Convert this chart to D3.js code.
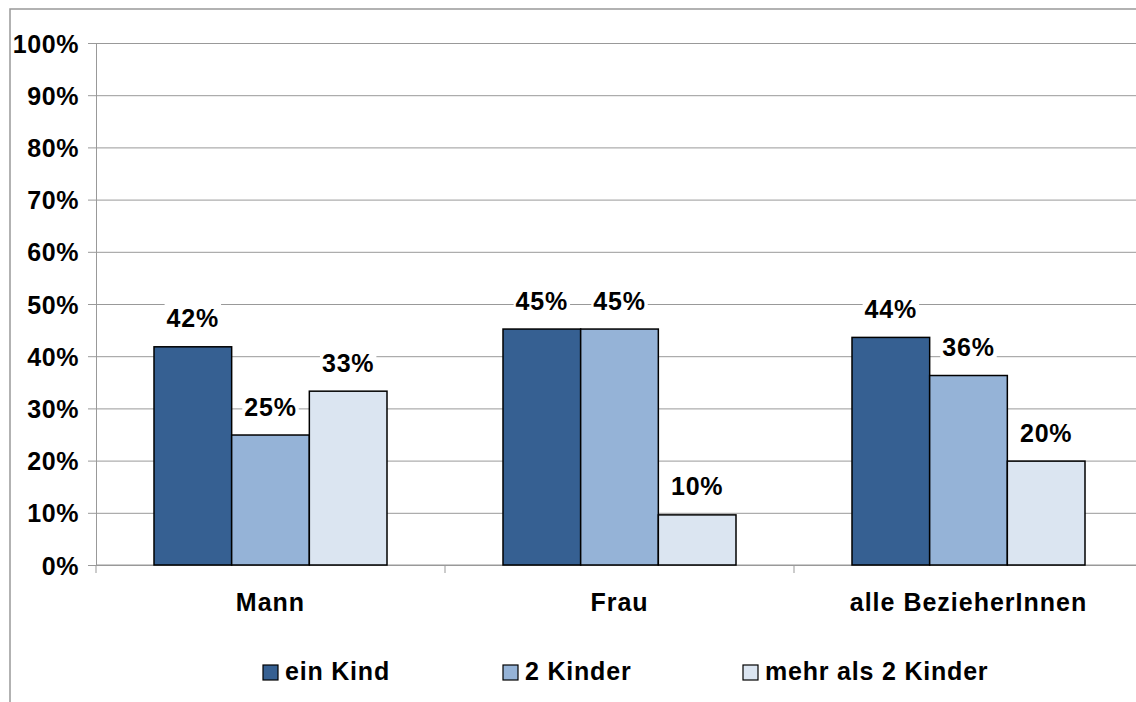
<!DOCTYPE html>
<html>
<head>
  <meta charset="UTF-8">
  <script src="https://d3js.org/d3.v7.min.js"></script>
  <style>
    body { margin: 0; background: #fff; }
    text { font-family: "Liberation Sans", Arial, sans-serif; font-weight: bold; fill: #000; }
  </style>
</head>
<body>
  <svg id="chart" width="1136" height="702"></svg>
  <script>
    const categories = ["Mann", "Frau", "alle BezieherInnen"];
    const series = ["ein Kind", "2 Kinder", "mehr als 2 Kinder"];
    const einKind = [41.8, 45.2, 43.6];
    const zweiKinder = [24.9, 45.2, 36.3];
    const mehrKinder = [33.3, 9.6, 19.9];
    const yTicks = [0, 10, 20, 30, 40, 50, 60, 70, 80, 90, 100];
    const colors = ["#366092", "#95B3D7", "#DBE5F1"];

    const seriesValues = [einKind, zweiKinder, mehrKinder];

    const svg = d3.select("#chart");
    const margin = { top: 43, left: 96, bottom: 137 };
    const plotW = 1047;
    const plotH = 702 - margin.top - margin.bottom;

    // outer frame
    svg.append("path")
      .attr("d", "M10,720 V9 H1150")
      .attr("fill", "none")
      .attr("stroke", "#999")
      .attr("stroke-width", 1.5);

    const g = svg.append("g").attr("transform", "translate(" + margin.left + "," + margin.top + ")");

    const x = d3.scaleBand().domain(categories).range([0, plotW]);
    const xInner = d3.scaleBand().domain(series).range([0, 233]);
    const y = d3.scaleLinear().domain([0, 100]).range([plotH, 0]);

    // y axis + grid
    const yAxis = g.append("g")
      .call(d3.axisLeft(y).tickValues(yTicks).tickFormat(d => d + "%").tickSizeOuter(0).tickSizeInner(8));
    yAxis.select(".domain").attr("stroke", "#999").attr("stroke-width", 1);
    yAxis.selectAll(".tick line").attr("x1", -8).attr("x2", plotW).attr("stroke", "#999");
    yAxis.selectAll(".tick text")
      .attr("x", -17).attr("dy", null).attr("y", 9)
      .style("font-size", "25px").style("letter-spacing", "0.6px")
      .attr("font-family", null);

    // x axis
    const xAxis = g.append("g").attr("transform", "translate(0," + plotH + ")");
    xAxis.append("line").attr("x1", 0).attr("x2", plotW).attr("stroke", "#999");
    xAxis.selectAll("line.sep").data(d3.range(categories.length + 1))
      .join("line").attr("class", "sep")
      .attr("x1", i => i * x.bandwidth()).attr("x2", i => i * x.bandwidth())
      .attr("y1", 0).attr("y2", 8).attr("stroke", "#999");
    xAxis.selectAll("text.cat").data(categories)
      .join("text").attr("class", "cat")
      .attr("x", d => x(d) + x.bandwidth() / 2)
      .attr("y", 46)
      .attr("text-anchor", "middle")
      .style("font-size", "25px").style("letter-spacing", "1px")
      .text(d => d);

    // bars
    const rows = [];
    series.forEach((s, si) => {
      categories.forEach((c, ci) => {
        rows.push({ s: s, c: c, v: seriesValues[si][ci], color: colors[si] });
      });
    });
    const off = (x.bandwidth() - 233) / 2;

    g.selectAll("rect.bar").data(rows)
      .join("rect").attr("class", "bar")
      .attr("x", d => x(d.c) + off + xInner(d.s))
      .attr("y", d => y(d.v))
      .attr("width", xInner.bandwidth())
      .attr("height", d => plotH - y(d.v))
      .attr("fill", d => d.color)
      .attr("stroke", "#000")
      .attr("stroke-width", 1.5);

    // value labels with white backing
    const labels = g.selectAll("g.lbl").data(rows).join("g").attr("class", "lbl");
    labels.append("text")
      .attr("x", d => x(d.c) + off + xInner(d.s) + xInner.bandwidth() / 2)
      .attr("y", d => y(d.v) - 19.5)
      .attr("text-anchor", "middle")
      .style("font-size", "25px").style("letter-spacing", "0.8px")
      .text(d => Math.round(d.v) + "%");
    labels.each(function() {
      const t = d3.select(this).select("text");
      const b = t.node().getBBox();
      d3.select(this).insert("rect", "text")
        .attr("x", b.x - 2).attr("y", b.y - 2)
        .attr("width", b.width + 4).attr("height", b.height + 2)
        .attr("fill", "#fff");
    });

    // legend
    const legendX = [263, 503, 743];
    const legend = svg.selectAll("g.leg").data(series)
      .join("g").attr("class", "leg")
      .attr("transform", (d, i) => "translate(" + legendX[i] + ",665)");
    legend.append("rect")
      .attr("width", 15).attr("height", 15)
      .attr("fill", (d, i) => colors[i])
      .attr("stroke", "#000").attr("stroke-width", 1.2);
    legend.append("text")
      .attr("x", 22).attr("y", 15)
      .style("font-size", "25px").style("letter-spacing", "0.8px")
      .text(d => d);
  </script>
</body>
</html>
